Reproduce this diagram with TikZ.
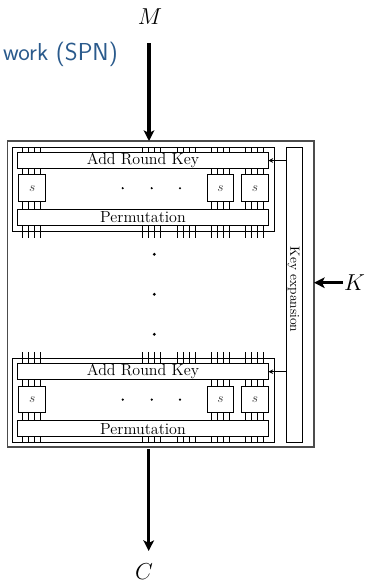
\documentclass[tikz,border=0pt]{standalone}
\usetikzlibrary{arrows.meta}
\definecolor{titleblue}{HTML}{2A5A8C}
\tikzset{
  box/.style={draw,line width=0.7pt,inner sep=0pt,outer sep=0pt,fill=none},
  frameout/.style={draw=black!70,line width=0.8pt,inner sep=0pt,outer sep=0pt},
  wire/.style={line width=0.5pt},
  bigarrow/.style={line width=2.5pt,-{Stealth[length=8pt,width=8pt,inset=2pt]}},
  smallarrow/.style={line width=0.6pt,-{Stealth[length=3.5pt,width=3.5pt]}},
  dotmark/.style={circle,fill=black,inner sep=0pt,minimum size=1.8pt},
  bigdot/.style={circle,fill=black,inner sep=0pt,minimum size=2.4pt},
  big/.style={font=\LARGE,inner sep=0pt},
  sboxlabel/.style={text=black!75},
}
\newcommand{\ticks}[2]{%
  \foreach \xx in {22.7,28.7,34.3,40,142.3,148.3,154.3,160.3,177.3,183.3,189.3,195,211.7,217.3,223.3,229.3,245.7,251.7,257.7,263.3}
    \draw[wire] (\xx,0 |- #1) -- (\xx,0 |- #2);}
\newcommand{\sticks}[2]{%
  \foreach \xx in {22.7,28.7,34.3,40,211.7,217.3,223.3,229.3,245.7,251.7,257.7,263.3}
    \draw[wire] (\xx,0 |- #1) -- (\xx,0 |- #2);}
\begin{document}
\begin{tikzpicture}[x=0.75pt,y=-0.75pt]
\useasboundingbox (0,0) rectangle (365,583);
% title fragment
\node[anchor=base east,inner sep=0pt,text=titleblue,font=\sffamily\fontsize{18.4}{20}\selectfont] (title) at (118,60) {work (SPN)};
% frames
\node[frameout,minimum width=306.5*0.75pt,minimum height=306*0.75pt] (outer) at (160.75,294) {};
\node[box,minimum width=261.5*0.75pt,minimum height=84*0.75pt] (inA) at (143.25,189) {};
\node[box,minimum width=261.5*0.75pt,minimum height=84*0.75pt] (inB) at (143.25,400) {};
\node[box,minimum width=15.6*0.75pt,minimum height=295*0.75pt] (kx) at (294.5,294.5) {};
\node[rotate=-90,inner sep=0pt,font=\normalsize] (kxt) at (293.5,289.5) {Key expansion};
% round 1
\node[box,minimum width=251*0.75pt,minimum height=15.5*0.75pt,font=\large] (arkA) at (143,160.5) {Add Round Key};
\node[box,minimum width=26.5*0.75pt,minimum height=26.5*0.75pt,sboxlabel] (s1A) at (32.2,188.2) {$s$};
\node[box,minimum width=26.5*0.75pt,minimum height=26.5*0.75pt,sboxlabel] (s2A) at (220.5,188.2) {$s$};
\node[box,minimum width=26.5*0.75pt,minimum height=26.5*0.75pt,sboxlabel] (s3A) at (255,188.2) {$s$};
\node[box,minimum width=251*0.75pt,minimum height=16*0.75pt,font=\large] (pA) at (143,217.3) {Permutation};
% round 2
\node[box,minimum width=251*0.75pt,minimum height=15.5*0.75pt,font=\large] (arkB) at (143,371.7) {Add Round Key};
\node[box,minimum width=26.5*0.75pt,minimum height=26.5*0.75pt,sboxlabel] (s1B) at (32.2,399.6) {$s$};
\node[box,minimum width=26.5*0.75pt,minimum height=26.5*0.75pt,sboxlabel] (s2B) at (220.5,399.6) {$s$};
\node[box,minimum width=26.5*0.75pt,minimum height=26.5*0.75pt,sboxlabel] (s3B) at (255,399.6) {$s$};
\node[box,minimum width=251*0.75pt,minimum height=16*0.75pt,font=\large] (pB) at (143,428.7) {Permutation};
% tick end coordinates
\coordinate (belowA) at (0,237.7);
\coordinate (aboveB) at (0,352.3);
% wires
\ticks{inA.north}{arkA.north}
\sticks{arkA.south}{s1A.north}
\sticks{s1A.south}{pA.north}
\ticks{pA.south}{belowA}
\ticks{aboveB}{arkB.north}
\sticks{arkB.south}{s1B.north}
\sticks{s1B.south}{pB.north}
\ticks{pB.south}{inB.south}
% dots
\foreach \n/\xx/\yy in {a/122.7/188.2,b/151.7/188.2,c/180/188.2,d/122.7/399.6,e/151.7/399.6,f/180/399.6}
  \node[dotmark] (dot\n) at (\xx,\yy) {};
\foreach \n/\xx/\yy in {g/154.3/254.3,h/154.3/294.3,i/154.3/334.3}
  \node[bigdot] (dot\n) at (\xx,\yy) {};
% labels and arrows
\node[big] (M) at (150,17) {$M$};
\node[big] (C) at (144,571.5) {$C$};
\node[big] (K) at (354.5,283) {$K$};
\coordinate (Mstart) at (149,43);
\coordinate (Cstart) at (148.7,449);
\coordinate (Cend) at (148.7,551);
\coordinate (Kstart) at (343,282.7);
\draw[bigarrow] (Mstart) -- (Mstart |- outer.north);
\draw[bigarrow] (Cstart) -- (Cend);
\draw[bigarrow] (Kstart) -- (Kstart -| outer.east);
\draw[smallarrow] (kx.west |- arkA.east) -- (arkA.east);
\draw[smallarrow] (kx.west |- arkB.east) -- (arkB.east);
\end{tikzpicture}
\end{document}
